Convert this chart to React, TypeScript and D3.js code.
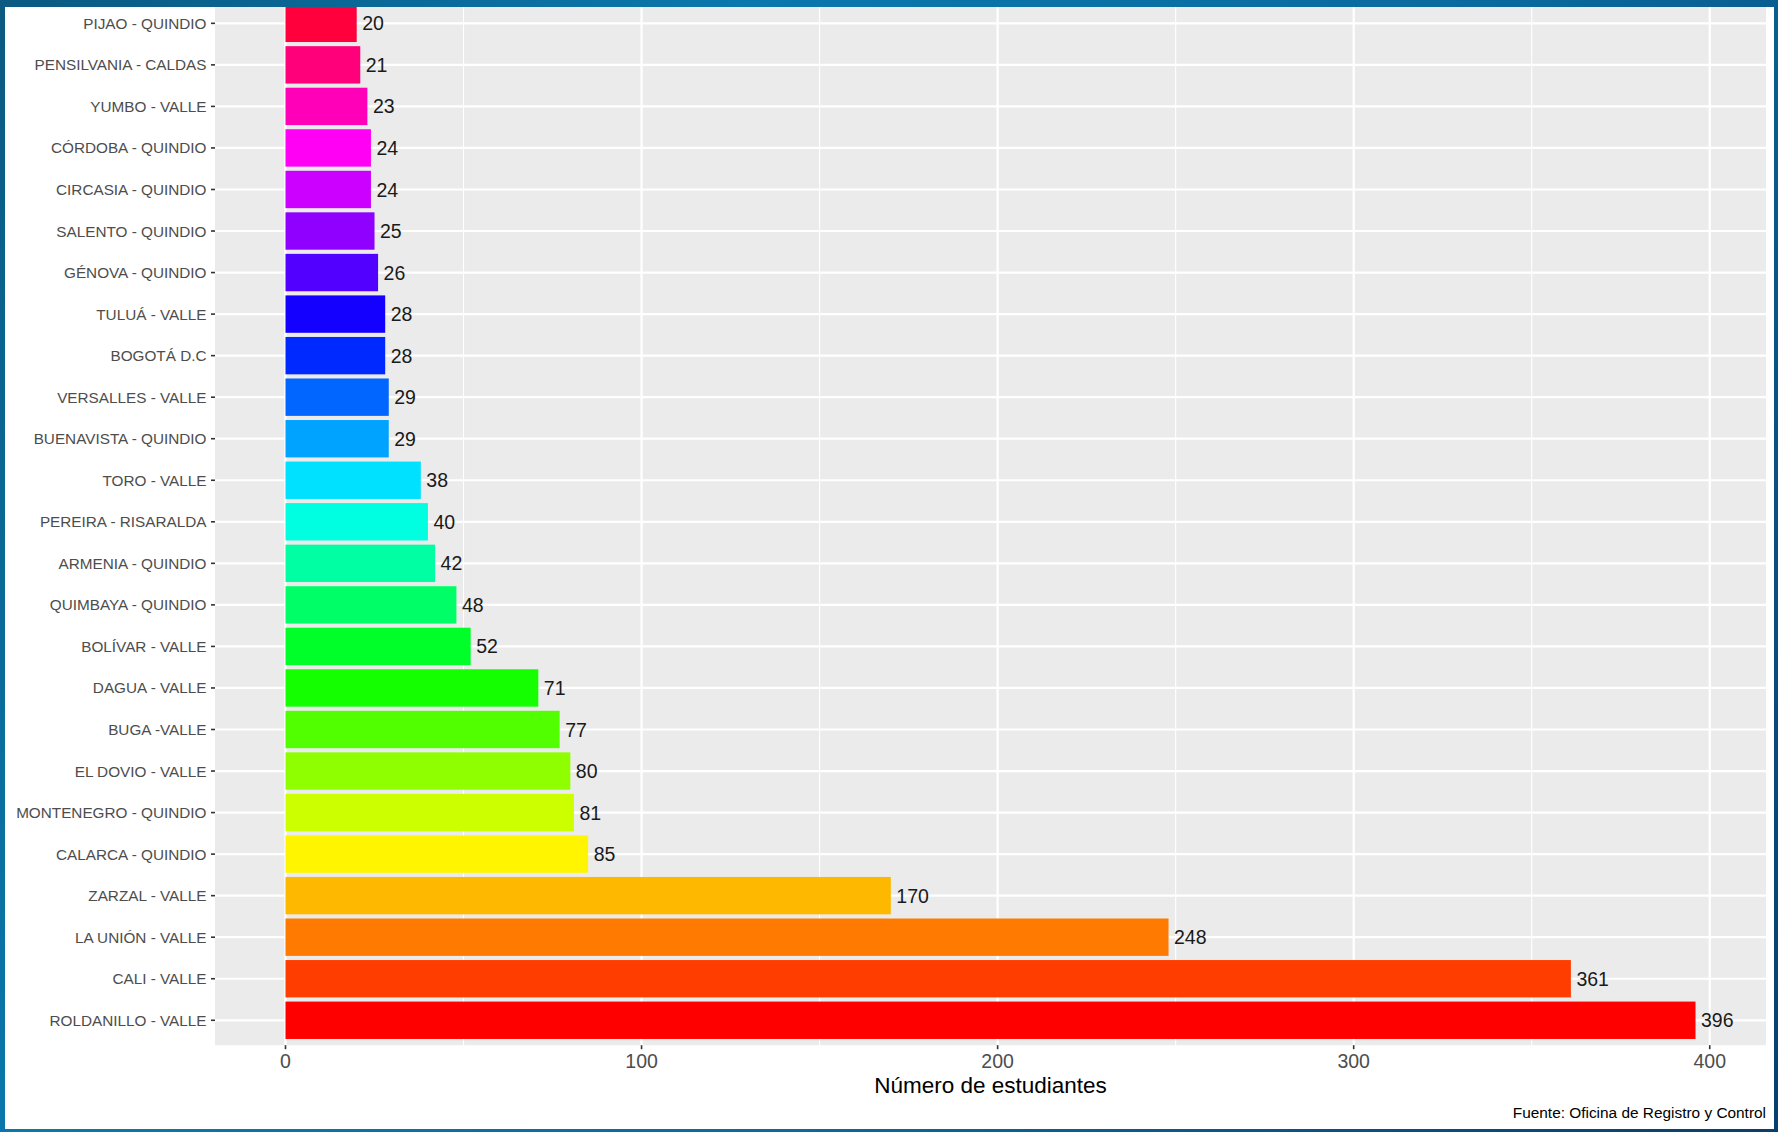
import React from "react";
import * as d3 from "d3";

const categories: string[] = [
  "PIJAO - QUINDIO",
  "PENSILVANIA - CALDAS",
  "YUMBO - VALLE",
  "CÓRDOBA - QUINDIO",
  "CIRCASIA - QUINDIO",
  "SALENTO - QUINDIO",
  "GÉNOVA - QUINDIO",
  "TULUÁ - VALLE",
  "BOGOTÁ D.C",
  "VERSALLES - VALLE",
  "BUENAVISTA - QUINDIO",
  "TORO - VALLE",
  "PEREIRA - RISARALDA",
  "ARMENIA - QUINDIO",
  "QUIMBAYA - QUINDIO",
  "BOLÍVAR - VALLE",
  "DAGUA - VALLE",
  "BUGA -VALLE",
  "EL DOVIO - VALLE",
  "MONTENEGRO - QUINDIO",
  "CALARCA - QUINDIO",
  "ZARZAL - VALLE",
  "LA UNIÓN - VALLE",
  "CALI - VALLE",
  "ROLDANILLO - VALLE",
];

const values: number[] = [
  20, 21, 23, 24, 24, 25, 26, 28, 28, 29, 29, 38, 40, 42, 48, 52, 71, 77, 80,
  81, 85, 170, 248, 361, 396,
];

const xTicks: number[] = [0, 100, 200, 300, 400];
const xMinorTicks: number[] = [50, 150, 250, 350];

const xTitle = "Número de estudiantes";
const caption = "Fuente: Oficina de Registro y Control";

const W = 1778;
const H = 1132;
const panelLeft = 215;
const panelRight = 1766;
const panelTop = -1.6;
const panelBottom = 1045.2;

const FONT = "'Liberation Sans', Arial, Helvetica, sans-serif";

export default function App() {
  const x = d3
    .scaleLinear()
    .domain([-19.8, 415.8])
    .range([panelLeft, panelRight]);

  const y = d3
    .scaleBand<string>()
    .domain(categories)
    .range([panelTop, panelBottom])
    .paddingInner(0.1)
    .paddingOuter(0.15);

  const n = categories.length;
  const color = (i: number) => {
    const k = n - 1 - i;
    return d3.hsl((k * 360) / n, 1, 0.5).formatHex();
  };

  const center = (c: string) => (y(c) ?? 0) + y.bandwidth() / 2;

  return (
    <svg
      width={W}
      height={H}
      style={{ position: "absolute", left: 0, top: 0, display: "block" }}
    >
      <defs>
        <linearGradient id="frameGrad" x1="0" y1="0" x2={W} y2={H} gradientUnits="userSpaceOnUse">
          <stop offset="0" stopColor="#0a5a82" />
          <stop offset="0.3" stopColor="#0a78ad" />
          <stop offset="0.6" stopColor="#0a6a9e" />
          <stop offset="1" stopColor="#073f6e" />
        </linearGradient>
        <clipPath id="inner">
          <rect x={5} y={7} width={1774 - 5} height={1129 - 7} />
        </clipPath>
      </defs>
      <rect x={0} y={0} width={W} height={H} fill="url(#frameGrad)" />
      <g clipPath="url(#inner)">
        <rect x={0} y={0} width={W} height={H} fill="#ffffff" />
        <rect
          x={panelLeft}
          y={panelTop}
          width={panelRight - panelLeft}
          height={panelBottom - panelTop}
          fill="#EBEBEB"
        />
        {xMinorTicks.map((t) => (
          <line
            key={"mn" + t}
            x1={x(t)}
            x2={x(t)}
            y1={panelTop}
            y2={panelBottom}
            stroke="#ffffff"
            strokeWidth={1.1}
          />
        ))}
        {xTicks.map((t) => (
          <line
            key={"mj" + t}
            x1={x(t)}
            x2={x(t)}
            y1={panelTop}
            y2={panelBottom}
            stroke="#ffffff"
            strokeWidth={2.2}
          />
        ))}
        {categories.map((c) => (
          <line
            key={"hg" + c}
            x1={panelLeft}
            x2={panelRight}
            y1={center(c)}
            y2={center(c)}
            stroke="#ffffff"
            strokeWidth={2.2}
          />
        ))}
        {categories.map((c, i) => (
          <rect
            key={"bar" + c}
            x={x(0)}
            y={y(c)}
            width={x(values[i]) - x(0)}
            height={y.bandwidth()}
            fill={color(i)}
          />
        ))}
        {categories.map((c, i) => (
          <text
            key={"lbl" + c}
            x={x(values[i]) + 5.5}
            y={center(c)}
            dy="0.36em"
            fontFamily={FONT}
            fontSize={19.5}
            fill="#1a1a1a"
          >
            {values[i]}
          </text>
        ))}
        {categories.map((c) => (
          <g key={"yt" + c}>
            <line
              x1={panelLeft - 4}
              x2={panelLeft}
              y1={center(c)}
              y2={center(c)}
              stroke="#333333"
              strokeWidth={1.6}
            />
            <text
              x={panelLeft - 8.5}
              y={center(c)}
              dy="0.36em"
              textAnchor="end"
              fontFamily={FONT}
              fontSize={15.3}
              fill="#4D4D4D"
            >
              {c}
            </text>
          </g>
        ))}
        {xTicks.map((t) => (
          <g key={"xt" + t}>
            <line
              x1={x(t)}
              x2={x(t)}
              y1={panelBottom}
              y2={panelBottom + 4}
              stroke="#333333"
              strokeWidth={1.6}
            />
            <text
              x={x(t)}
              y={1068}
              textAnchor="middle"
              fontFamily={FONT}
              fontSize={19.5}
              fill="#4D4D4D"
            >
              {t}
            </text>
          </g>
        ))}
        <text
          x={(panelLeft + panelRight) / 2}
          y={1093}
          textAnchor="middle"
          fontFamily={FONT}
          fontSize={22.5}
          fill="#000000"
        >
          {xTitle}
        </text>
        <text
          x={1766}
          y={1117.5}
          textAnchor="end"
          fontFamily={FONT}
          fontSize={15.4}
          fill="#000000"
        >
          {caption}
        </text>
      </g>
    </svg>
  );
}
